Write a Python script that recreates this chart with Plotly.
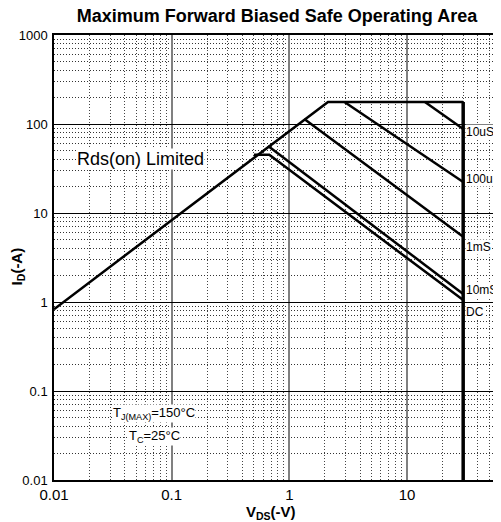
import math
import plotly.graph_objects as go

# Boundary: Rds(on) limit, package current limit, BVdss limit
limit_v = [0.01, 2.13, 30, 30]
limit_i = [0.83, 177, 177, 0.01]
us10_v = [14.2, 30]
us10_i = [177, 88]
us100_v = [2.94, 30]
us100_i = [177, 22.3]
ms1_v = [1.34, 30]
ms1_i = [114, 5.4]
ms10_v = [0.66, 30]
ms10_i = [56.6, 1.23]
dc_v = [0.5, 0.675, 30]
dc_i = [45, 45, 1.05]

curve_labels = ["10uS", "100uS", "1mS", "10mS", "DC"]
label_v = 30.8
label_i = [81, 24, 4.15, 1.36, 0.77]

x_ticks = [0.01, 0.1, 1, 10]
x_ticktext = ["0.01", "0.1", "1", "10"]
y_ticks = [0.01, 0.1, 1, 10, 100, 1000]
y_ticktext = ["0.01", "0.1", "1", "10", "100", "1000"]

FONT = "Liberation Sans, Arial, sans-serif"

# page body adds an 8px offset; figure is sized to fill the window after it
W, H = 493, 514


def minor_vals(lo_exp, hi_exp):
    vals = []
    for e in range(lo_exp, hi_exp):
        for m in range(2, 10):
            vals.append(m * 10 ** e)
    return vals


fig = go.Figure()
line = dict(color="black", width=2.5)
fig.add_trace(go.Scatter(x=limit_v[:3], y=limit_i[:3], mode="lines", line=line))
fig.add_trace(go.Scatter(x=limit_v[2:], y=limit_i[2:], mode="lines",
                         line=dict(color="black", width=3.5)))
for vx, iy in [(us10_v, us10_i), (us100_v, us100_i), (ms1_v, ms1_i),
               (ms10_v, ms10_i), (dc_v, dc_i)]:
    fig.add_trace(go.Scatter(x=vx, y=iy, mode="lines", line=line))

for lab, yi in zip(curve_labels, label_i):
    fig.add_annotation(x=math.log10(label_v), y=math.log10(yi), xref="x", yref="y",
                       text=lab, showarrow=False, xanchor="left", yanchor="middle",
                       bgcolor="white", borderpad=0,
                       font=dict(family=FONT, size=12, color="black"))

fig.add_annotation(x=math.log10(0.054), y=math.log10(40), xref="x", yref="y",
                   text="Rds(on) Limited", showarrow=False, bgcolor="white",
                   borderpad=0, font=dict(family=FONT, size=18, color="black"))
fig.add_annotation(x=math.log10(0.071), y=math.log10(0.056), xref="x", yref="y",
                   text="T<sub>J(MAX)</sub>=150°C", showarrow=False,
                   xanchor="center", bgcolor="white", borderpad=0,
                   font=dict(family=FONT, size=13, color="black"))
fig.add_annotation(x=math.log10(0.071), y=math.log10(0.031), xref="x", yref="y",
                   text="T<sub>C</sub>=25°C", showarrow=False,
                   xanchor="center", bgcolor="white", borderpad=0,
                   font=dict(family=FONT, size=13, color="black"))

# Axis titles
fig.add_annotation(x=0.4865, y=-0.073, xref="paper", yref="paper",
                   text="<b>V<sub>DS</sub>(-V)</b>", showarrow=False,
                   xanchor="center", yanchor="middle",
                   font=dict(family=FONT, size=15, color="black"))
fig.add_annotation(x=-0.083, y=0.48, xref="paper", yref="paper",
                   text="<b>I<sub>D</sub>(-A)</b>", showarrow=False, textangle=-90,
                   xanchor="center", yanchor="middle",
                   font=dict(family=FONT, size=15, color="black"))

fig.update_layout(
    width=W, height=H,
    margin=dict(l=46, r=1, t=27, b=H - 472, autoexpand=False),
    paper_bgcolor="white", plot_bgcolor="white",
    showlegend=False,
    title=dict(text="<b>Maximum Forward Biased Safe Operating Area</b>",
               x=269 / W, xanchor="center", xref="container",
               y=1 - 8 / H, yanchor="middle",
               font=dict(family=FONT, size=18, color="black")),
    font=dict(family=FONT, size=13, color="black"),
)
fig.update_xaxes(
    type="log", range=[-2, 1.79], automargin=False,
    tickmode="array", tickvals=x_ticks, ticktext=x_ticktext,
    showgrid=True, gridcolor="#808080", gridwidth=1.5,
    showline=True, linecolor="black", linewidth=1.5, mirror=True,
    ticks="", zeroline=False,
    tickfont=dict(family=FONT, size=15),
    minor=dict(tickmode="array", tickvals=minor_vals(-2, 2), showgrid=True,
               gridcolor="#444444", griddash="1px,2px", gridwidth=1),
)
fig.update_yaxes(
    type="log", range=[-2, 3], automargin=False,
    tickmode="array", tickvals=y_ticks, ticktext=y_ticktext,
    showgrid=True, gridcolor="black", gridwidth=1,
    showline=True, linecolor="black", linewidth=1.5, mirror=True,
    ticks="", zeroline=False, ticklabelstandoff=2,
    tickfont=dict(family=FONT, size=13),
    minor=dict(tickmode="array", tickvals=minor_vals(-2, 3), showgrid=True,
               gridcolor="#333333", griddash="1px,2px", gridwidth=1),
)

fig.write_html("out.html")
